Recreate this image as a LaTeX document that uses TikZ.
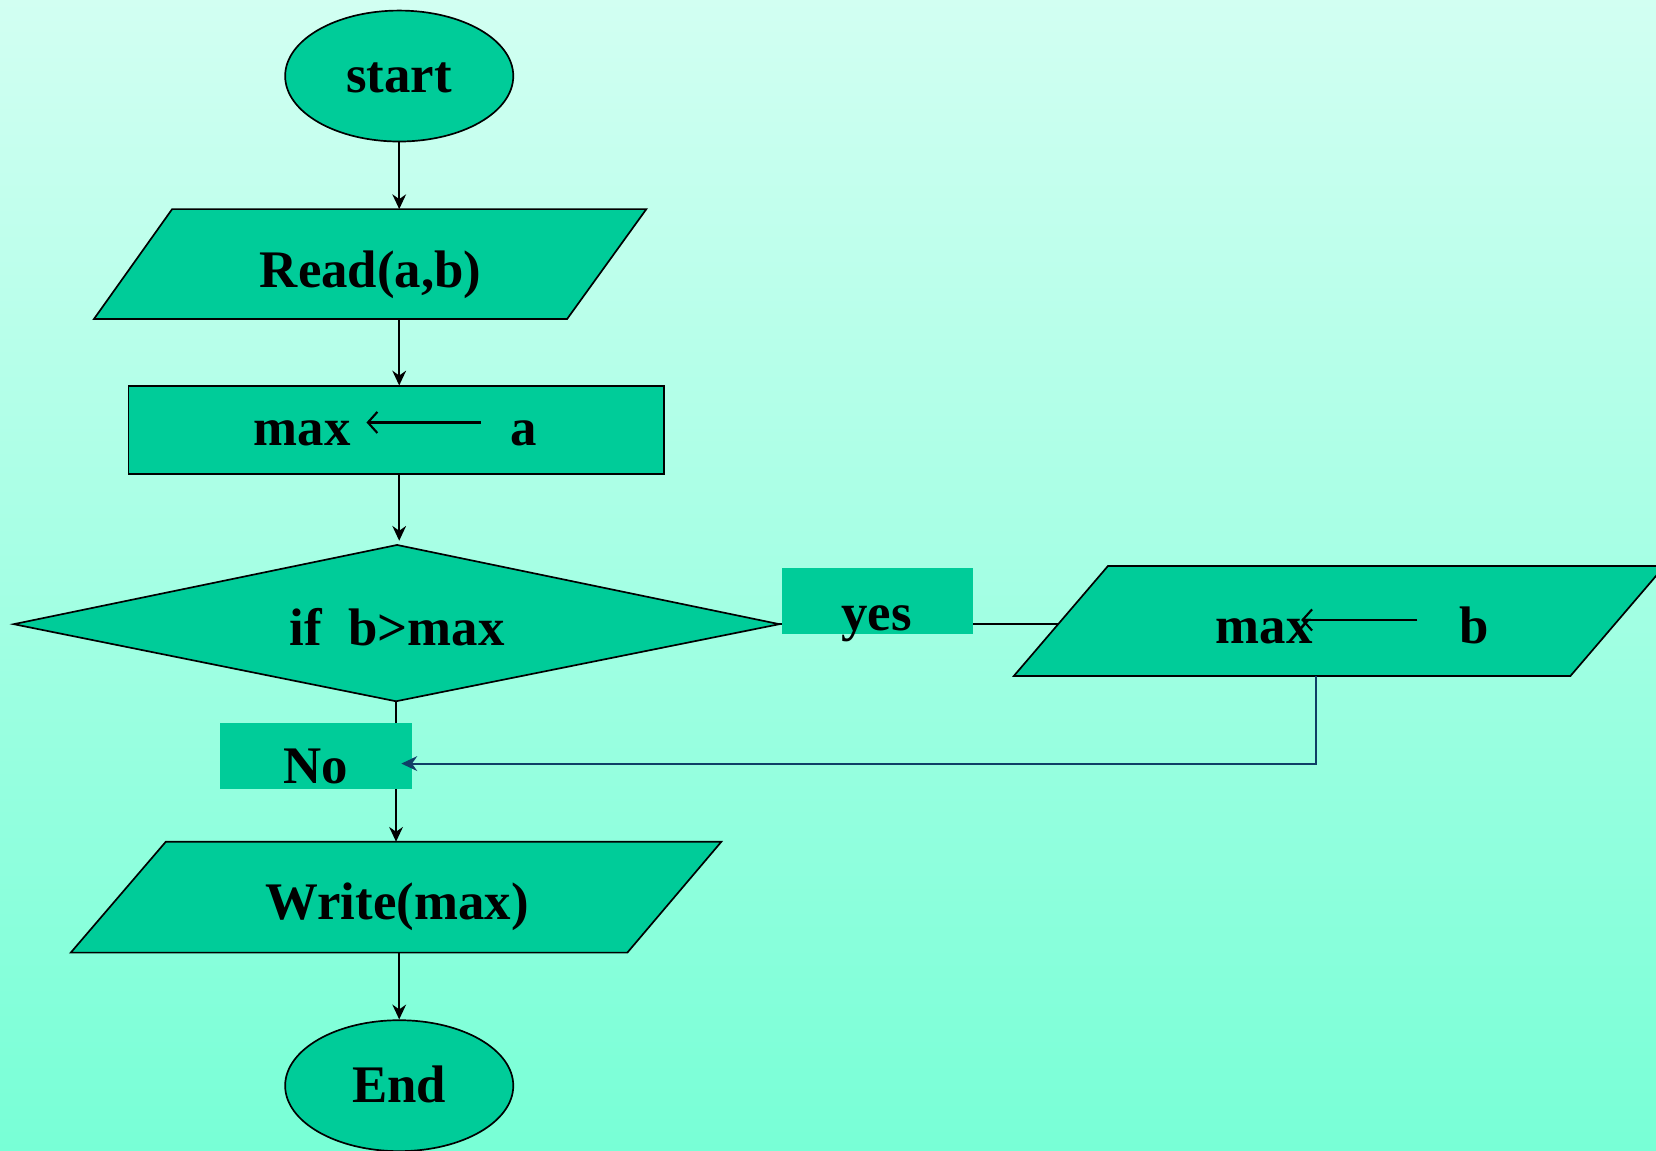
\documentclass[tikz,border=0pt]{standalone}
\usepackage{fontspec}
\setmainfont{Liberation Serif}
\usetikzlibrary{arrows.meta,shapes.geometric}
\definecolor{bgtop}{HTML}{D2FFF2}
\definecolor{bgbot}{HTML}{78FFD6}
\definecolor{boxgreen}{HTML}{00CC99}
\definecolor{loopblue}{HTML}{0F3F66}

\begin{document}
\begin{tikzpicture}[x=1pt,y=-1pt,
  shapebox/.style={fill=boxgreen,draw=black,line width=1.6pt},
  lbl/.style={font=\bfseries\fontsize{50}{56}\selectfont,inner sep=0pt,anchor=base},
  flow/.style={line width=1.7pt,-{Stealth[length=14pt,width=13pt]}},
  assign/.style={line width=2pt,-{Straight Barb[length=9pt,width=20pt]}},
  tag/.style={fill=boxgreen,draw=none,inner sep=0pt,anchor=north west}]
\useasboundingbox (0,0) rectangle (1568,1089);
\clip (0,0) rectangle (1568,1089);
\shade[top color=bgtop,bottom color=bgbot] (0,0) rectangle (1568,1089);

% start terminal
\node[shapebox,ellipse,minimum width=216pt,minimum height=124pt,inner sep=0pt] (start) at (378,72) {};
\node[lbl] (startL) at (378,88) {start};

% input
\path[shapebox] (163,198) -- (612,198) -- (537,302) -- (89,302) -- cycle;
\coordinate (readIn) at (378,198);
\coordinate (readOut) at (378,302);
\node[lbl] (readL) at (351,272) {Read(a,b)};

% max <- a
\node[shapebox,rectangle,minimum width=507pt,minimum height=83pt,inner sep=0pt,anchor=north west] (init) at (121,365) {};
\coordinate (initIn) at (378,365);
\coordinate (initOut) at (378,448);
\node[lbl] (initL) at (286,422) {max};
\node[lbl] (initR) at (496,422) {a};
\coordinate (initArrS) at (455,400);
\coordinate (initArrE) at (347,400);
\draw[assign] (initArrS) -- (initArrE);

% decision
\coordinate (dTop) at (376,516);
\coordinate (dRight) at (738,591);
\coordinate (dBottom) at (375,664);
\coordinate (dLeft) at (13,591);
\coordinate (dIn) at (378,512);
\coordinate (yesEnd) at (1010,591);
\draw[line width=1.7pt] (dRight) -- (yesEnd);
\path[shapebox] (dTop) -- (dRight) -- (dBottom) -- (dLeft) -- cycle;
\node[lbl] (decL) at (376,611) {if\ \ b>max};

% max <- b
\path[shapebox] (1049,536) -- (1576,536) -- (1487,640) -- (960,640) -- cycle;
\coordinate (updOut) at (1246,640);
\node[lbl] (updL) at (1197,609) {max};
\node[lbl] (updR) at (1396,609) {b};
\coordinate (updArrS) at (1342,587);
\coordinate (updArrE) at (1232,587);
\draw[assign] (updArrS) -- (updArrE);

% yes tag
\node[tag,minimum width=181pt,minimum height=62pt] (yes) at (740,538) {};
\node[lbl] (yesL) at (830,597) {yes};

% no branch
\coordinate (writeIn) at (375,797);
\draw[flow] (dBottom) -- (writeIn);
\node[tag,minimum width=182pt,minimum height=63pt] (no) at (208,684) {};
\node[lbl] (noL) at (299,742) {No};
\coordinate (loopCorner) at (1246,723);
\coordinate (loopEnd) at (380,723);
\draw[line width=1.8pt,draw=loopblue,-{Stealth[length=15pt,width=14pt,fill=loopblue]}] (updOut) -- (loopCorner) -- (loopEnd);

% output
\path[shapebox] (157,797) -- (683,797) -- (594,902) -- (67,902) -- cycle;
\coordinate (writeOut) at (378,902);
\node[lbl] (writeL) at (376,871) {Write(max)};

% end terminal
\node[shapebox,ellipse,minimum width=216pt,minimum height=124pt,inner sep=0pt] (end) at (378,1028) {};
\node[lbl] (endL) at (378,1044) {End};

% vertical flow
\draw[flow] (start.south) -- (readIn);
\draw[flow] (readOut) -- (initIn);
\draw[flow] (initOut) -- (dIn);
\draw[flow] (writeOut) -- (end.north);
\end{tikzpicture}
\end{document}
